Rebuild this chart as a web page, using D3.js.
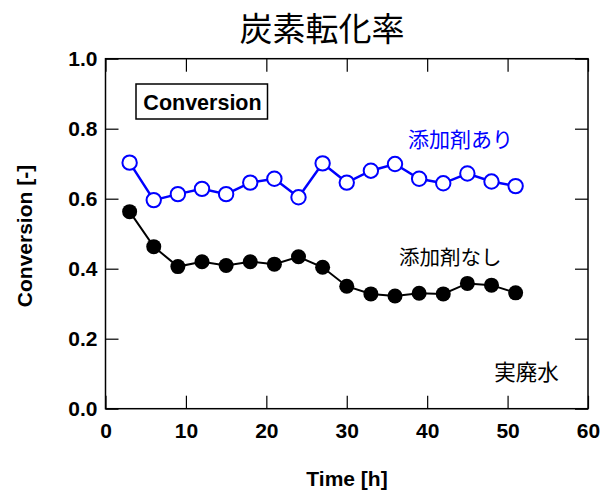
<!DOCTYPE html>
<html>
<head>
<meta charset="utf-8">
<script src="https://cdn.jsdelivr.net/npm/d3@7"></script>
<style>
  body { margin: 0; background: #fff; }
  text { font-family: "Liberation Sans", Arial, sans-serif; }
  .jp { font-family: "Noto Sans CJK JP", sans-serif; }
</style>
</head>
<body>
<svg id="chart"></svg>
<script>
// data
const hours = [3, 6, 9, 12, 15, 18, 21, 24, 27, 30, 33, 36, 39, 42, 45, 48, 51];
const withAdditive = [0.703, 0.596, 0.613, 0.628, 0.613, 0.646, 0.657, 0.604, 0.701, 0.646, 0.680, 0.699, 0.657, 0.644, 0.672, 0.649, 0.636];
const withoutAdditive = [0.563, 0.463, 0.406, 0.420, 0.409, 0.420, 0.413, 0.434, 0.404, 0.350, 0.328, 0.322, 0.330, 0.328, 0.358, 0.353, 0.331];
const xTicks = [0, 10, 20, 30, 40, 50, 60];
const yTicks = [0, 0.2, 0.4, 0.6, 0.8, 1.0];

const width = 601;
const height = 492;
const margin = { top: 58.7, right: 13, bottom: 83.3, left: 105.5 };
const innerWidth = width - margin.left - margin.right;
const innerHeight = height - margin.top - margin.bottom;

const svg = d3.select("#chart")
    .attr("width", width)
    .attr("height", height);

const g = svg.append("g")
    .attr("transform", `translate(${margin.left}, ${margin.top})`);

const x = d3.scaleLinear().domain([0, 60]).range([0, innerWidth]);
const y = d3.scaleLinear().domain([0, 1]).range([innerHeight, 0]);

const tickLen = 13;

// axes: labels outside, ticks pointing inward
g.append("g")
    .attr("transform", `translate(0, ${innerHeight})`)
    .call(d3.axisBottom(x).tickValues(xTicks).tickSizeInner(-tickLen).tickSizeOuter(0).tickPadding(14).tickFormat(d3.format("d")));

g.append("g")
    .call(d3.axisLeft(y).tickValues(yTicks).tickSizeInner(-tickLen).tickSizeOuter(0).tickPadding(8).tickFormat(d3.format(".1f")));

// mirrored ticks on top and right, no labels
g.append("g")
    .attr("class", "mirror")
    .call(d3.axisTop(x).tickValues(xTicks).tickSizeInner(-tickLen).tickSizeOuter(0));

g.append("g")
    .attr("class", "mirror")
    .attr("transform", `translate(${innerWidth}, 0)`)
    .call(d3.axisRight(y).tickValues(yTicks).tickSizeInner(-tickLen).tickSizeOuter(0));

g.selectAll(".mirror text").remove();
g.selectAll(".domain").remove();
g.selectAll(".tick line").attr("stroke", "#000").attr("stroke-width", 1.2);
g.selectAll(".tick text")
    .attr("fill", "#000")
    .style("font-size", "21px")
    .style("font-weight", "bold");

// frame
g.append("rect")
    .attr("width", innerWidth)
    .attr("height", innerHeight)
    .attr("fill", "none")
    .attr("stroke", "#000")
    .attr("stroke-width", 1.5);

const line = d3.line()
    .x((d, i) => x(hours[i]))
    .y(d => y(d));

// series without additive (black, filled)
g.append("path")
    .datum(withoutAdditive)
    .attr("fill", "none")
    .attr("stroke", "#000")
    .attr("stroke-width", 2)
    .attr("d", line);

g.selectAll(".dot-black")
    .data(withoutAdditive)
    .enter()
    .append("circle")
    .attr("cx", (d, i) => x(hours[i]))
    .attr("cy", d => y(d))
    .attr("r", 7.5)
    .attr("fill", "#000");

// series with additive (blue, open)
g.append("path")
    .datum(withAdditive)
    .attr("fill", "none")
    .attr("stroke", "#0000ff")
    .attr("stroke-width", 2.5)
    .attr("d", line);

g.selectAll(".dot-blue")
    .data(withAdditive)
    .enter()
    .append("circle")
    .attr("cx", (d, i) => x(hours[i]))
    .attr("cy", d => y(d))
    .attr("r", 7.2)
    .attr("fill", "#fff")
    .attr("stroke", "#0000ff")
    .attr("stroke-width", 2);

// "Conversion" box
g.append("rect")
    .attr("x", 30.5)
    .attr("y", 25.3)
    .attr("width", 131.5)
    .attr("height", 35)
    .attr("fill", "#fff")
    .attr("stroke", "#000")
    .attr("stroke-width", 1.5);

g.append("text")
    .attr("x", 97)
    .attr("y", 51)
    .attr("text-anchor", "middle")
    .style("font-size", "21.5px")
    .style("font-weight", "bold")
    .text("Conversion");

// series labels
g.append("text")
    .attr("class", "jp")
    .attr("x", 302.5)
    .attr("y", 88.5)
    .attr("fill", "#0000ff")
    .style("font-size", "21px")
    .text("添加剤あり");

g.append("text")
    .attr("class", "jp")
    .attr("x", 293.5)
    .attr("y", 206)
    .attr("fill", "#000")
    .style("font-size", "20.5px")
    .text("添加剤なし");

g.append("text")
    .attr("class", "jp")
    .attr("x", 388.8)
    .attr("y", 321.6)
    .attr("fill", "#000")
    .style("font-size", "21.5px")
    .text("実廃水");

// title
svg.append("text")
    .attr("class", "jp")
    .attr("x", 322)
    .attr("y", 40.5)
    .attr("text-anchor", "middle")
    .style("font-size", "33px")
    .text("炭素転化率");

// axis titles
svg.append("text")
    .attr("x", 347)
    .attr("y", 486)
    .attr("text-anchor", "middle")
    .style("font-size", "21px")
    .style("font-weight", "bold")
    .text("Time [h]");

svg.append("text")
    .attr("transform", "translate(31.5, 236) rotate(-90)")
    .attr("text-anchor", "middle")
    .style("font-size", "21px")
    .style("font-weight", "bold")
    .text("Conversion [-]");
</script>
</body>
</html>
